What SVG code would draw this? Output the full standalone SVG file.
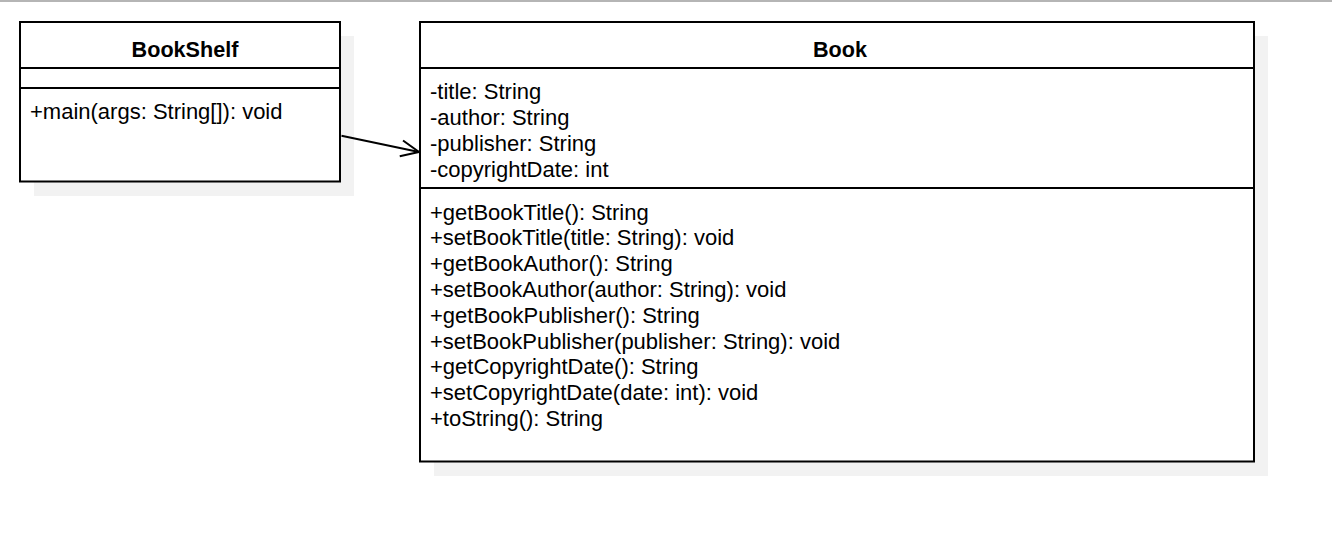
<svg xmlns="http://www.w3.org/2000/svg" width="1332" height="546" viewBox="0 0 1332 546">
<style>
.shadow{fill:#f2f2f2;stroke:none}
.box{fill:#ffffff;stroke:#000000;stroke-width:2}
.div{stroke:#000000;stroke-width:2;fill:none}
.title{font-family:"Liberation Sans",Arial,sans-serif;font-size:21.6px;font-weight:bold;fill:#000;text-anchor:middle}
.mem{font-family:"Liberation Sans",Arial,sans-serif;font-size:22px;fill:#000}
.edge{stroke:#000;stroke-width:2;fill:none}
</style>
<defs>
<marker id="open" viewBox="0 0 20 20" refX="19" refY="10" markerWidth="20" markerHeight="20" markerUnits="userSpaceOnUse" orient="auto">
<path d="M1,2 L19,10 L1,18" fill="none" stroke="#000" stroke-width="2"/>
</marker>
</defs>
<rect x="0" y="0" width="1332" height="546" fill="#ffffff"/>
<rect x="0" y="0" width="1332" height="2" fill="#b5b5b5"/>
<g id="BookShelf">
<rect class="shadow" x="34" y="36" width="320" height="160"/>
<rect class="box" x="20" y="22" width="320" height="159.5"/>
<line class="div" x1="20" y1="68" x2="340" y2="68"/>
<line class="div" x1="20" y1="88" x2="340" y2="88"/>
<text class="title" x="185" y="56.5">BookShelf</text>
<text class="mem" x="30" y="118.5">+main(args: String[]): void</text>
</g>
<g id="Book">
<rect class="shadow" x="434" y="36" width="834" height="440"/>
<rect class="box" x="420" y="22" width="834" height="439.5"/>
<line class="div" x1="420" y1="68" x2="1254" y2="68"/>
<line class="div" x1="420" y1="188" x2="1254" y2="188"/>
<text class="title" x="840" y="56.5">Book</text>
<text class="mem" x="430" y="98.5">-title: String</text>
<text class="mem" x="430" y="124.5">-author: String</text>
<text class="mem" x="430" y="150.5">-publisher: String</text>
<text class="mem" x="430" y="176.5">-copyrightDate: int</text>
<text class="mem" x="430" y="219.5">+getBookTitle(): String</text>
<text class="mem" x="430" y="245.3">+setBookTitle(title: String): void</text>
<text class="mem" x="430" y="271.1">+getBookAuthor(): String</text>
<text class="mem" x="430" y="296.9">+setBookAuthor(author: String): void</text>
<text class="mem" x="430" y="322.7">+getBookPublisher(): String</text>
<text class="mem" x="430" y="348.5">+setBookPublisher(publisher: String): void</text>
<text class="mem" x="430" y="374.3">+getCopyrightDate(): String</text>
<text class="mem" x="430" y="400.1">+setCopyrightDate(date: int): void</text>
<text class="mem" x="430" y="425.9">+toString(): String</text>
</g>
<g id="connectors">
<path class="edge" d="M341.5,135.8 L419,152" marker-end="url(#open)"/>
</g>
</svg>
